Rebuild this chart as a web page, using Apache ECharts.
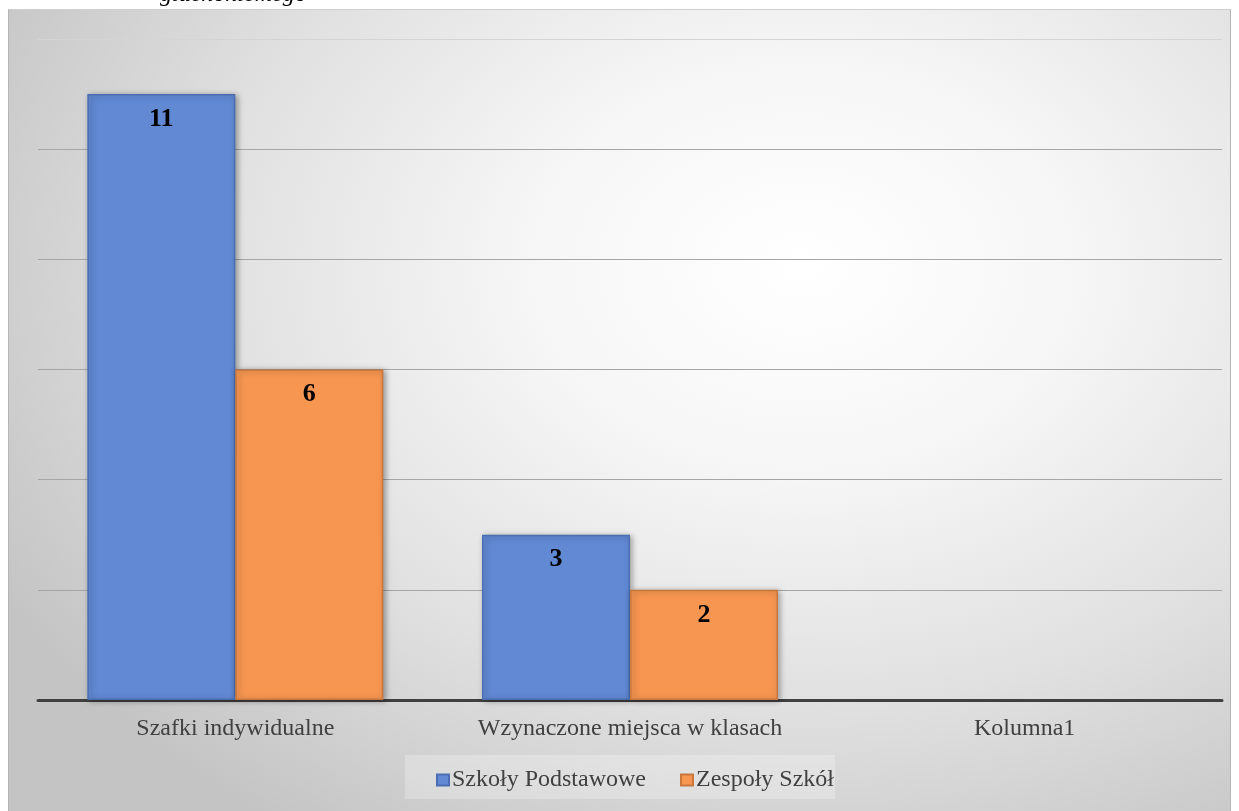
<!DOCTYPE html>
<html><head><meta charset="utf-8">
<script src="https://cdn.jsdelivr.net/npm/echarts@6/dist/echarts.min.js"></script>
<style>
html,body{margin:0;padding:0;width:1239px;height:811px;background:#fff;overflow:hidden;}
#bg{position:absolute;left:8px;top:9px;width:1223px;height:802px;border-left:1px solid #b5b5b5;border-top:1px solid #cfcfcf;border-right:1px solid #b5b5b5;box-sizing:border-box;
background:radial-gradient(ellipse 75% 85% at 65% 32%, #ffffff 0%, #f6f6f6 30%, #e0e0e0 65%, #c4c4c4 100%);}
#legbox{position:absolute;left:405px;top:755px;width:430px;height:44px;background:rgba(255,255,255,0.25);}
#main{position:absolute;left:0;top:0;width:1239px;height:811px;}
</style></head>
<body>
<div id="bg"></div><div id="legbox"></div>
<div id="main"></div>
<script>
const categories = ['Szafki indywidualne', 'Wzynaczone miejsca w klasach', 'Kolumna1'];
const seriesNames = ['Szkoły Podstawowe', 'Zespoły Szkół'];
const szkolyPodstawowe = [11, 3, null];
const zespolySzkol = [6, 2, null];
const headerText = 'głuchoniemego';

const chart = echarts.init(document.getElementById('main'), null, {renderer: 'canvas'});
const serif = '"Liberation Serif", "DejaVu Serif", serif';
function barStyle(c, dark) {
  return {
    color: c,
    borderColor: dark,
    borderWidth: 1.5,
    shadowBlur: 6,
    shadowColor: 'rgba(0,0,0,0.35)',
    shadowOffsetX: 2,
    shadowOffsetY: 1
  };
}
const label = {show: true, position: 'insideTop', distance: 12, color: '#000', fontFamily: serif, fontWeight: 'bold', fontSize: 26};
chart.setOption({
  backgroundColor: 'transparent',
  animation: false,
  graphic: [{type: 'text', left: 160, top: -17, silent: true,
    style: {text: headerText, font: 'italic 24px ' + serif, fill: '#000'}}],
  grid: {left: 38, right: 17, top: 39, bottom: 111, containLabel: false},
  legend: {
    top: 763, left: 431, itemWidth: 12, itemHeight: 11, itemGap: 34,
    icon: 'rect',
    textStyle: {fontFamily: serif, fontSize: 24, color: '#404040', padding: [0,0,0,-2]},
    data: seriesNames
  },
  xAxis: {
    type: 'category', data: categories,
    axisLine: {lineStyle: {color: '#404040', width: 3}},
    axisTick: {show: false},
    axisLabel: {interval: 0, hideOverlap: false, fontFamily: serif, fontSize: 24, color: '#404040', margin: 17}
  },
  yAxis: {
    type: 'value', min: 0, max: 12, interval: 2,
    axisLabel: {show: false}, axisLine: {show: false}, axisTick: {show: false},
    splitLine: {lineStyle: {color: ['#a6a6a6','#a6a6a6','#a6a6a6','#a6a6a6','#a6a6a6','#a6a6a6','#d4d4d4'], width: 1}}
  },
  series: [
    {name: seriesNames[0], type: 'bar', data: szkolyPodstawowe, barGap: '0%', barCategoryGap: '25%',
     itemStyle: barStyle('#6189d4', '#4a6eb0'), label: label},
    {name: seriesNames[1], type: 'bar', data: zespolySzkol,
     itemStyle: barStyle('#f79651', '#c9773c'), label: label}
  ]
});
</script>
</body></html>
